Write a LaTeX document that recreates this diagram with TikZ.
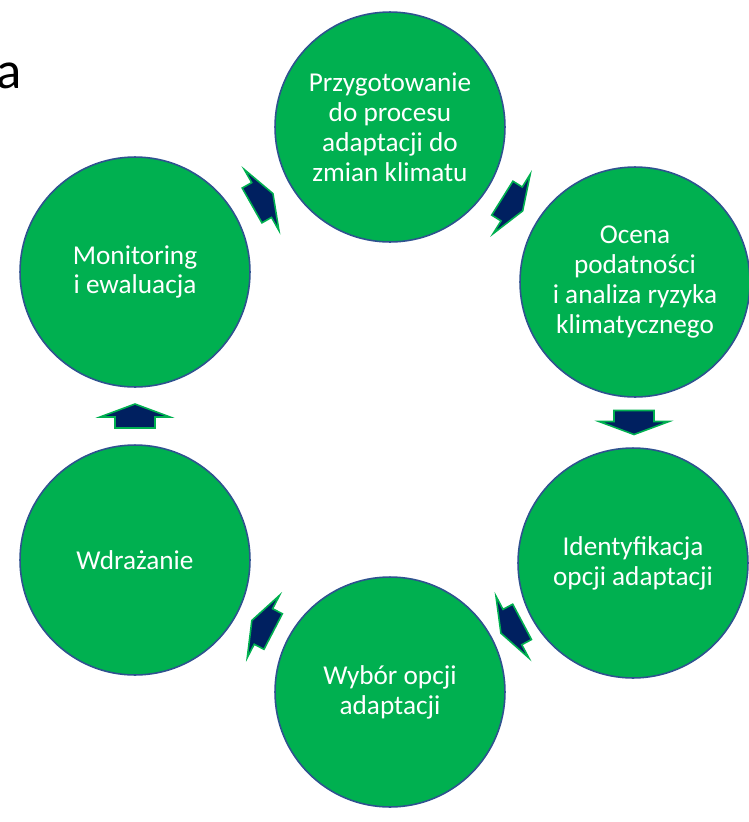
\documentclass[tikz,border=0pt]{standalone}
\usepackage{fontspec}
\setmainfont{Carlito}
\usetikzlibrary{calc}
\definecolor{phasegreen}{RGB}{0,176,80}
\definecolor{phaseedge}{RGB}{47,82,143}
\definecolor{arrownavy}{RGB}{0,32,96}
\begin{document}
\begin{tikzpicture}[x=0.02cm,y=-0.02cm,
        phase/.style={circle,fill=phasegreen,draw=phaseedge,line width=0.9pt,minimum size=4.6cm,inner sep=0pt,
            text=white,align=center,font=\fontsize{15.5}{17}\selectfont},
        blockarrow/.style={fill=arrownavy,draw=phasegreen,line width=0.9pt}]
        \useasboundingbox (0,0) rectangle (749,822);
        \node[anchor=base east,inner sep=0pt,font=\fontsize{30}{36}\selectfont] (titlea) at (22,88) {a};
        \node[phase] (prep) at (390,127) {Przygotowanie\\do procesu\\adaptacji do\\zmian klimatu};
        \node[phase] (ocena) at (635,282) {Ocena\\podatności\\i analiza ryzyka\\klimatycznego};
        \node[phase] (ident) at (633,563) {Identyfikacja\\opcji adaptacji};
        \node[phase] (wybor) at (390,692) {Wybór opcji\\adaptacji};
        \node[phase] (wdraz) at (135,560) {Wdrażanie};
        \node[phase] (monit) at (135,272) {Monitoring\\i ewaluacja};
        % block arrows between the phases
        \foreach \a/\b/\ang in {prep/ocena/-32,ocena/ident/-90,ident/wybor/-152,wybor/wdraz/152.6,wdraz/monit/90,monit/prep/29.6}
            \draw[blockarrow,shift={($(\a)!0.5!(\b)$)},rotate=\ang] (-12,-20) -- (-1,-20) -- (-1,-35) -- (12,0) -- (-1,35) -- (-1,20) -- (-12,20) -- cycle;
    \end{tikzpicture}
\end{document}
